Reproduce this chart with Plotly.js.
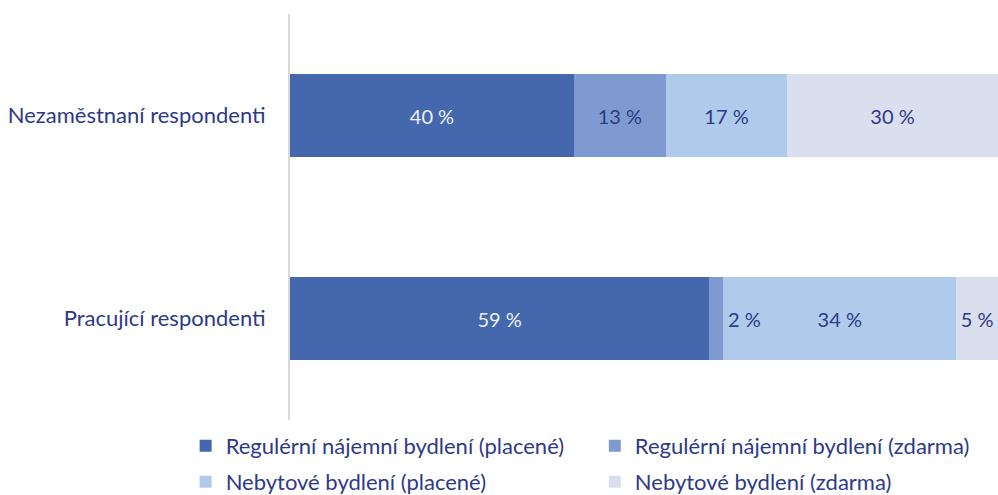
<!DOCTYPE html>
<html>
<head>
<meta charset="utf-8">
<script src="https://cdn.plot.ly/plotly-3.0.1.min.js"></script>
<style>html,body{margin:0;padding:0;background:#fff;}#chart{width:998px;height:495px;}</style>
</head>
<body>
<div id="chart"></div>
<script>
// Categories (top to bottom)
const categories = ["Nezaměstnaní respondenti", "Pracující respondenti"];
// Series names
const seriesNames = [
  "Regulérní nájemní bydlení (placené)",
  "Regulérní nájemní bydlení (zdarma)",
  "Nebytové bydlení (placené)",
  "Nebytové bydlení (zdarma)"
];
// Segment shares (%)
const regPaid   = [40.1, 59.2];
const regFree   = [13.0, 2.0];
const nonPaid   = [17.1, 32.9];
const nonFree   = [29.8, 5.9];
// Printed data labels
const regPaidLabels = ["40 %", "59 %"];
const regFreeLabels = ["13 %", "2 %"];
const nonPaidLabels = ["17 %", "34 %"];
const nonFreeLabels = ["30 %", "5 %"];

const colors = ["#4467AE", "#7F9AD0", "#AFCAEA", "#D9DFEE"];
const textColor = "#2E3A87";
const FONT = "Lato, 'Open Sans', sans-serif";

const seriesValues = [regPaid, regFree, nonPaid, nonFree];
const seriesLabels = [regPaidLabels, regFreeLabels, nonPaidLabels, nonFreeLabels];
const legendIds = ["legend", "legend2", "legend3", "legend4"];

// labels too wide for their segment are drawn as annotations beside it
const minInside = 4;
const annotations = [];
const traces = seriesValues.map((vals, i) => {
  const txt = vals.map((v, j) => {
    if (v < minInside) {
      let cum = 0;
      for (let k = 0; k <= i; k++) cum += seriesValues[k][j];
      annotations.push({
        x: cum, y: categories[j], xref: "x", yref: "y",
        text: seriesLabels[i][j], showarrow: false,
        xanchor: "left", xshift: 3,
        font: {family: FONT, size: 20, color: textColor}
      });
      return "";
    }
    return seriesLabels[i][j];
  });
  return {
    type: "bar",
    orientation: "h",
    name: seriesNames[i],
    y: categories,
    x: vals,
    text: txt,
    textposition: "inside",
    insidetextanchor: "middle",
    textangle: 0,
    constraintext: "none",
    textfont: {family: FONT, size: 20, color: i === 0 ? "#EEF1F8" : textColor},
    marker: {color: colors[i], line: {width: 0}},
    legend: legendIds[i],
    hoverinfo: "name+x"
  };
});

const legendBase = {
  orientation: "h", xref: "container", yref: "container",
  xanchor: "left", yanchor: "top",
  font: {family: FONT, size: 22, color: textColor}, bgcolor: "rgba(0,0,0,0)"
};
const colX = [0.186, 0.596];
const rowY = [0.1415, 0.0687];

const layout = {
  width: 998, height: 495,
  margin: {l: 290, r: 0, t: 14, b: 75, autoexpand: false},
  paper_bgcolor: "#fff", plot_bgcolor: "#fff",
  barmode: "stack",
  bargap: 0.596,
  font: {family: FONT, color: textColor, size: 22},
  xaxis: {range: [0, 100], showgrid: false, zeroline: false, showticklabels: false, showline: false, fixedrange: true},
  yaxis: {
    autorange: "reversed",
    showline: true, linecolor: "#D9D9D9", linewidth: 2,
    ticks: "", ticklabelstandoff: 18,
    showgrid: false, zeroline: false,
    tickfont: {family: FONT, size: 22, color: textColor}
  },
  legend:  Object.assign({}, legendBase, {x: colX[0], y: rowY[0]}),
  legend2: Object.assign({}, legendBase, {x: colX[1], y: rowY[0]}),
  legend3: Object.assign({}, legendBase, {x: colX[0], y: rowY[1]}),
  legend4: Object.assign({}, legendBase, {x: colX[1], y: rowY[1]}),
  annotations: annotations,
  showlegend: true
};

Plotly.newPlot("chart", traces, layout, {displayModeBar: false, staticPlot: true});
</script>
</body>
</html>
